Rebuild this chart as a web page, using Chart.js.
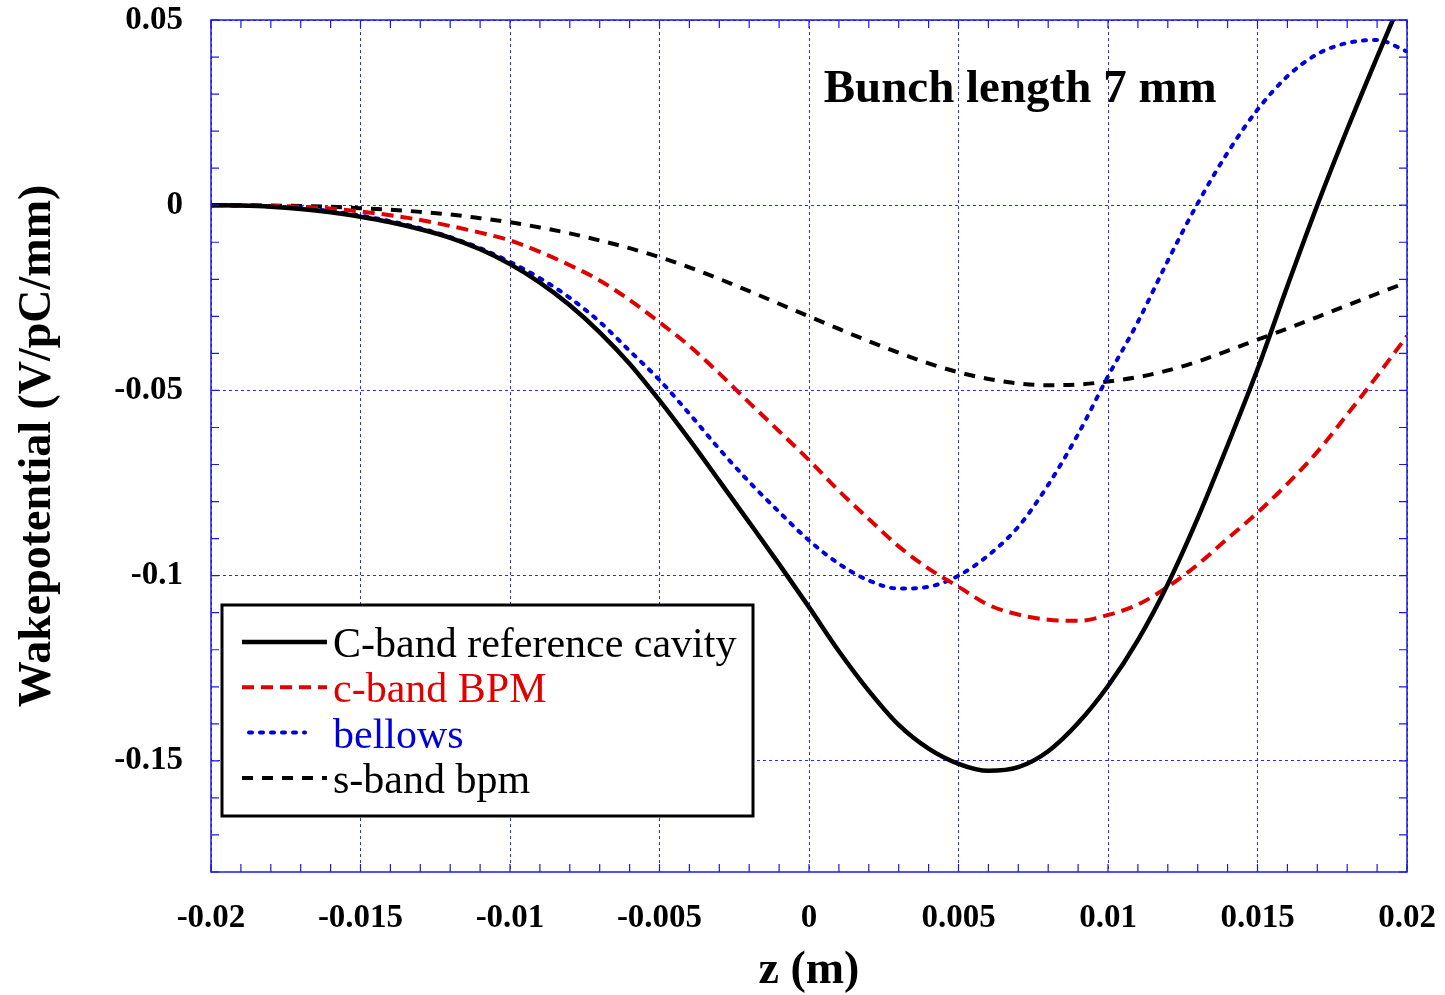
<!DOCTYPE html>
<html>
<head>
<meta charset="utf-8">
<script src="https://cdn.jsdelivr.net/npm/chart.js@4/dist/chart.umd.min.js"></script>
<style>
html,body{margin:0;padding:0;background:#fff;}
#wrap{width:1445px;height:995px;position:relative;}
</style>
</head>
<body>
<div id="wrap"><canvas id="c" width="1445" height="995"></canvas></div>
<script>
// ---- data ----
const zValues = [-0.020,-0.019,-0.018,-0.017,-0.016,-0.015,-0.014,-0.013,-0.012,-0.011,
  -0.010,-0.009,-0.008,-0.007,-0.006,-0.005,-0.004,-0.003,-0.002,-0.001,
  0.000,0.001,0.002,0.003,0.004,0.005,0.006,0.007,0.008,0.009,
  0.010,0.011,0.012,0.013,0.014,0.015,0.016,0.017,0.018,0.019,0.020];

const cbandRef = [0,-0.0001,-0.0004,-0.0010,-0.0019,-0.0031,-0.0046,-0.0065,-0.0088,-0.0119,
  -0.0159,-0.0209,-0.0270,-0.0343,-0.0428,-0.0527,-0.0633,-0.0744,-0.0856,-0.0969,
  -0.1085,-0.1204,-0.1311,-0.1403,-0.1467,-0.1508,-0.1527,-0.1517,-0.1474,-0.1398,
  -0.1298,-0.1174,-0.1023,-0.0845,-0.0648,-0.0443,-0.0218,0.0000,0.0205,0.0400,0.0590];

const cbandBPM = [0,-0.0001,-0.0002,-0.0004,-0.0009,-0.0017,-0.0027,-0.0040,-0.0056,-0.0074,
  -0.0095,-0.0126,-0.0162,-0.0203,-0.0256,-0.0316,-0.0380,-0.0454,-0.0533,-0.0610,
  -0.0688,-0.0771,-0.0847,-0.0921,-0.0981,-0.1030,-0.1079,-0.1105,-0.1119,-0.1122,
  -0.1106,-0.1078,-0.1030,-0.0970,-0.0900,-0.0830,-0.0752,-0.0666,-0.0565,-0.0461,-0.0353];

const bellows = [0,-0.0001,-0.0003,-0.0008,-0.0016,-0.0028,-0.0043,-0.0062,-0.0086,-0.0116,
  -0.0153,-0.0197,-0.0250,-0.0315,-0.0393,-0.0472,-0.0563,-0.0658,-0.0747,-0.0828,
  -0.0905,-0.0968,-0.1013,-0.1035,-0.1030,-0.1000,-0.0945,-0.0868,-0.0755,-0.0618,
  -0.0462,-0.0315,-0.0150,0.0005,0.0142,0.0258,0.0348,0.0408,0.0438,0.0446,0.0415];

const sbandBPM = [0,0,-0.0001,-0.0002,-0.0004,-0.0008,-0.0012,-0.0018,-0.0025,-0.0035,
  -0.0046,-0.0060,-0.0076,-0.0095,-0.0116,-0.0140,-0.0168,-0.0199,-0.0232,-0.0266,
  -0.0300,-0.0334,-0.0367,-0.0398,-0.0427,-0.0451,-0.0469,-0.0481,-0.0486,-0.0484,
  -0.0476,-0.0464,-0.0446,-0.0422,-0.0393,-0.0363,-0.0333,-0.0302,-0.0270,-0.0239,-0.0208];

const seriesLabels = ['C-band reference cavity','c-band BPM','bellows','s-band bpm'];
const xMajorTicks = [-0.02,-0.015,-0.01,-0.005,0,0.005,0.01,0.015,0.02];
const xTickLabels = ['-0.02','-0.015','-0.01','-0.005','0','0.005','0.01','0.015','0.02'];
const yMajorTicks = [0.05,0,-0.05,-0.1,-0.15];
const yTickLabels = ['0.05','0','-0.05','-0.1','-0.15'];
const xTitle = 'z (m)';
const yTitle = 'Wakepotential (V/pC/mm)';
const noteText = 'Bunch length 7 mm';

// ---- chart ----
const SERIF = '"Liberation Serif","Times New Roman",Times,serif';
const GRID_BLUE = 'rgba(20,20,240,0.9)';
const FRAME_BLUE = '#1a1ae6';

function near(a,b){return Math.abs(a-b)<1e-9;}
function labelFor(v, majors, labels){
  for(let i=0;i<majors.length;i++){ if(near(v,majors[i])) return labels[i]; }
  return '';
}
function isMajor(v, majors){ return majors.some(m=>near(m,v)); }
function stepList(min,max,step){
  const out=[]; const n=Math.round((max-min)/step);
  for(let i=0;i<=n;i++) out.push(Math.round((min+i*step)*1e6)/1e6);
  return out;
}
const toPts = arr => arr.map((v,i)=>({x:zValues[i], y:v}));

const datasets = [
  {label:seriesLabels[0], data:toPts(cbandRef), borderColor:'#000000', borderWidth:4.5, borderDash:[], textColor:'#000000', sample:[242,327]},
  {label:seriesLabels[1], data:toPts(cbandBPM), borderColor:'#e00000', borderWidth:4, borderDash:[12,7], textColor:'#e00000', sample:[242,327]},
  {label:seriesLabels[2], data:toPts(bellows), borderColor:'#0000dd', borderWidth:4, borderDash:[3,8], borderCapStyle:'round', textColor:'#0000dd', sample:[249,305]},
  {label:seriesLabels[3], data:toPts(sbandBPM), borderColor:'#000000', borderWidth:4, borderDash:[11,9], textColor:'#000000', sample:[242,327]}
];
datasets.forEach(d=>{ d.pointRadius=0; d.fill=false; d.cubicInterpolationMode='monotone'; d.backgroundColor=d.borderColor; });

const framePlugin = {
  id:'frame',
  afterDatasetsDraw(chart){
    const {ctx, chartArea:a, scales:{x,y}} = chart;
    ctx.save();
    ctx.strokeStyle = FRAME_BLUE; ctx.lineWidth = 1.5; ctx.setLineDash([]);
    ctx.strokeRect(a.left, a.top, a.right-a.left, a.bottom-a.top);
    ctx.lineWidth = 1.2;
    const L = 8;
    ctx.beginPath();
    x.ticks.forEach(t=>{
      const px = x.getPixelForValue(t.value);
      ctx.moveTo(px, a.bottom); ctx.lineTo(px, a.bottom-L);
      ctx.moveTo(px, a.top); ctx.lineTo(px, a.top+L);
    });
    y.ticks.forEach(t=>{
      const py = y.getPixelForValue(t.value);
      ctx.moveTo(a.left, py); ctx.lineTo(a.left+L, py);
      ctx.moveTo(a.right, py); ctx.lineTo(a.right-L, py);
    });
    ctx.stroke();
    ctx.restore();
  }
};

const legendPlugin = {
  id:'boxLegend',
  afterDraw(chart){
    const {ctx} = chart;
    const bx=222, by=605, bw=531, bh=211;
    ctx.save();
    ctx.fillStyle='#fff';
    ctx.fillRect(bx,by,bw,bh);
    ctx.strokeStyle='#000'; ctx.lineWidth=3; ctx.setLineDash([]);
    ctx.strokeRect(bx,by,bw,bh);
    ctx.font = '42px ' + SERIF;
    ctx.textBaseline='alphabetic'; ctx.textAlign='left';
    chart.data.datasets.forEach((d,i)=>{
      const ly = 642 + i*45.3;
      ctx.save();
      ctx.strokeStyle=d.borderColor; ctx.lineWidth=d.borderWidth;
      ctx.setLineDash(d.borderDash||[]);
      ctx.lineCap = d.borderCapStyle || 'butt';
      ctx.beginPath(); ctx.moveTo(d.sample[0],ly); ctx.lineTo(d.sample[1],ly); ctx.stroke();
      ctx.restore();
      ctx.fillStyle=d.textColor;
      ctx.fillText(d.label, 333, ly+15);
    });
    const xs = chart.scales.x, ys = chart.scales.y;
    ctx.fillStyle='#000';
    ctx.font = 'bold 47px ' + SERIF;
    ctx.fillText(noteText, xs.getPixelForValue(0.00049), ys.getPixelForValue(0.0278));
    ctx.restore();
  }
};

new Chart(document.getElementById('c'), {
  type:'line',
  data:{datasets},
  options:{
    responsive:false, animation:false, devicePixelRatio:1,
    layout:{padding:{left:0, top:20, right:38, bottom:0}},
    plugins:{legend:{display:false}, tooltip:{enabled:false}},
    scales:{
      x:{
        type:'linear', min:-0.02, max:0.02,
        afterBuildTicks: s => { s.ticks = stepList(-0.02,0.02,0.001).map(v=>({value:v})); },
        afterFit: s => { s.height = 123; s.paddingLeft = 0; s.paddingRight = 0; },
        ticks:{autoSkip:false, maxRotation:0, minRotation:0, padding:27, color:'#000',
          font:{family:SERIF, size:33, weight:'bold'},
          callback: v => labelFor(v, xMajorTicks, xTickLabels)},
        grid:{drawTicks:false, lineWidth:1,
          color: c => (c.tick && isMajor(c.tick.value, xMajorTicks)) ? GRID_BLUE : 'rgba(0,0,0,0)'},
        border:{display:false, dash:[3,3]},
        title:{display:true, text:xTitle, color:'#000',
          font:{family:SERIF, size:46, weight:'bold', lineHeight:1}, padding:{top:0,bottom:1}}
      },
      y:{
        type:'linear', min:-0.18, max:0.05,
        afterBuildTicks: s => { s.ticks = stepList(-0.18,0.05,0.01).map(v=>({value:v})); },
        afterFit: s => { s.width = 211; s.paddingTop = 0; s.paddingBottom = 0; },
        ticks:{autoSkip:false, padding:28, color:'#000',
          font:{family:SERIF, size:33, weight:'bold'},
          callback: v => labelFor(v, yMajorTicks, yTickLabels)},
        grid:{drawTicks:false, lineWidth:1,
          color: c => (c.tick && isMajor(c.tick.value, yMajorTicks)) ? GRID_BLUE : 'rgba(0,0,0,0)'},
        border:{display:false, dash:[3,3]},
        title:{display:true, text:yTitle, color:'#000',
          font:{family:SERIF, size:46, weight:'bold', lineHeight:1}, padding:{top:15,bottom:0}}
      }
    }
  },
  plugins:[framePlugin, legendPlugin]
});
</script>
</body>
</html>
